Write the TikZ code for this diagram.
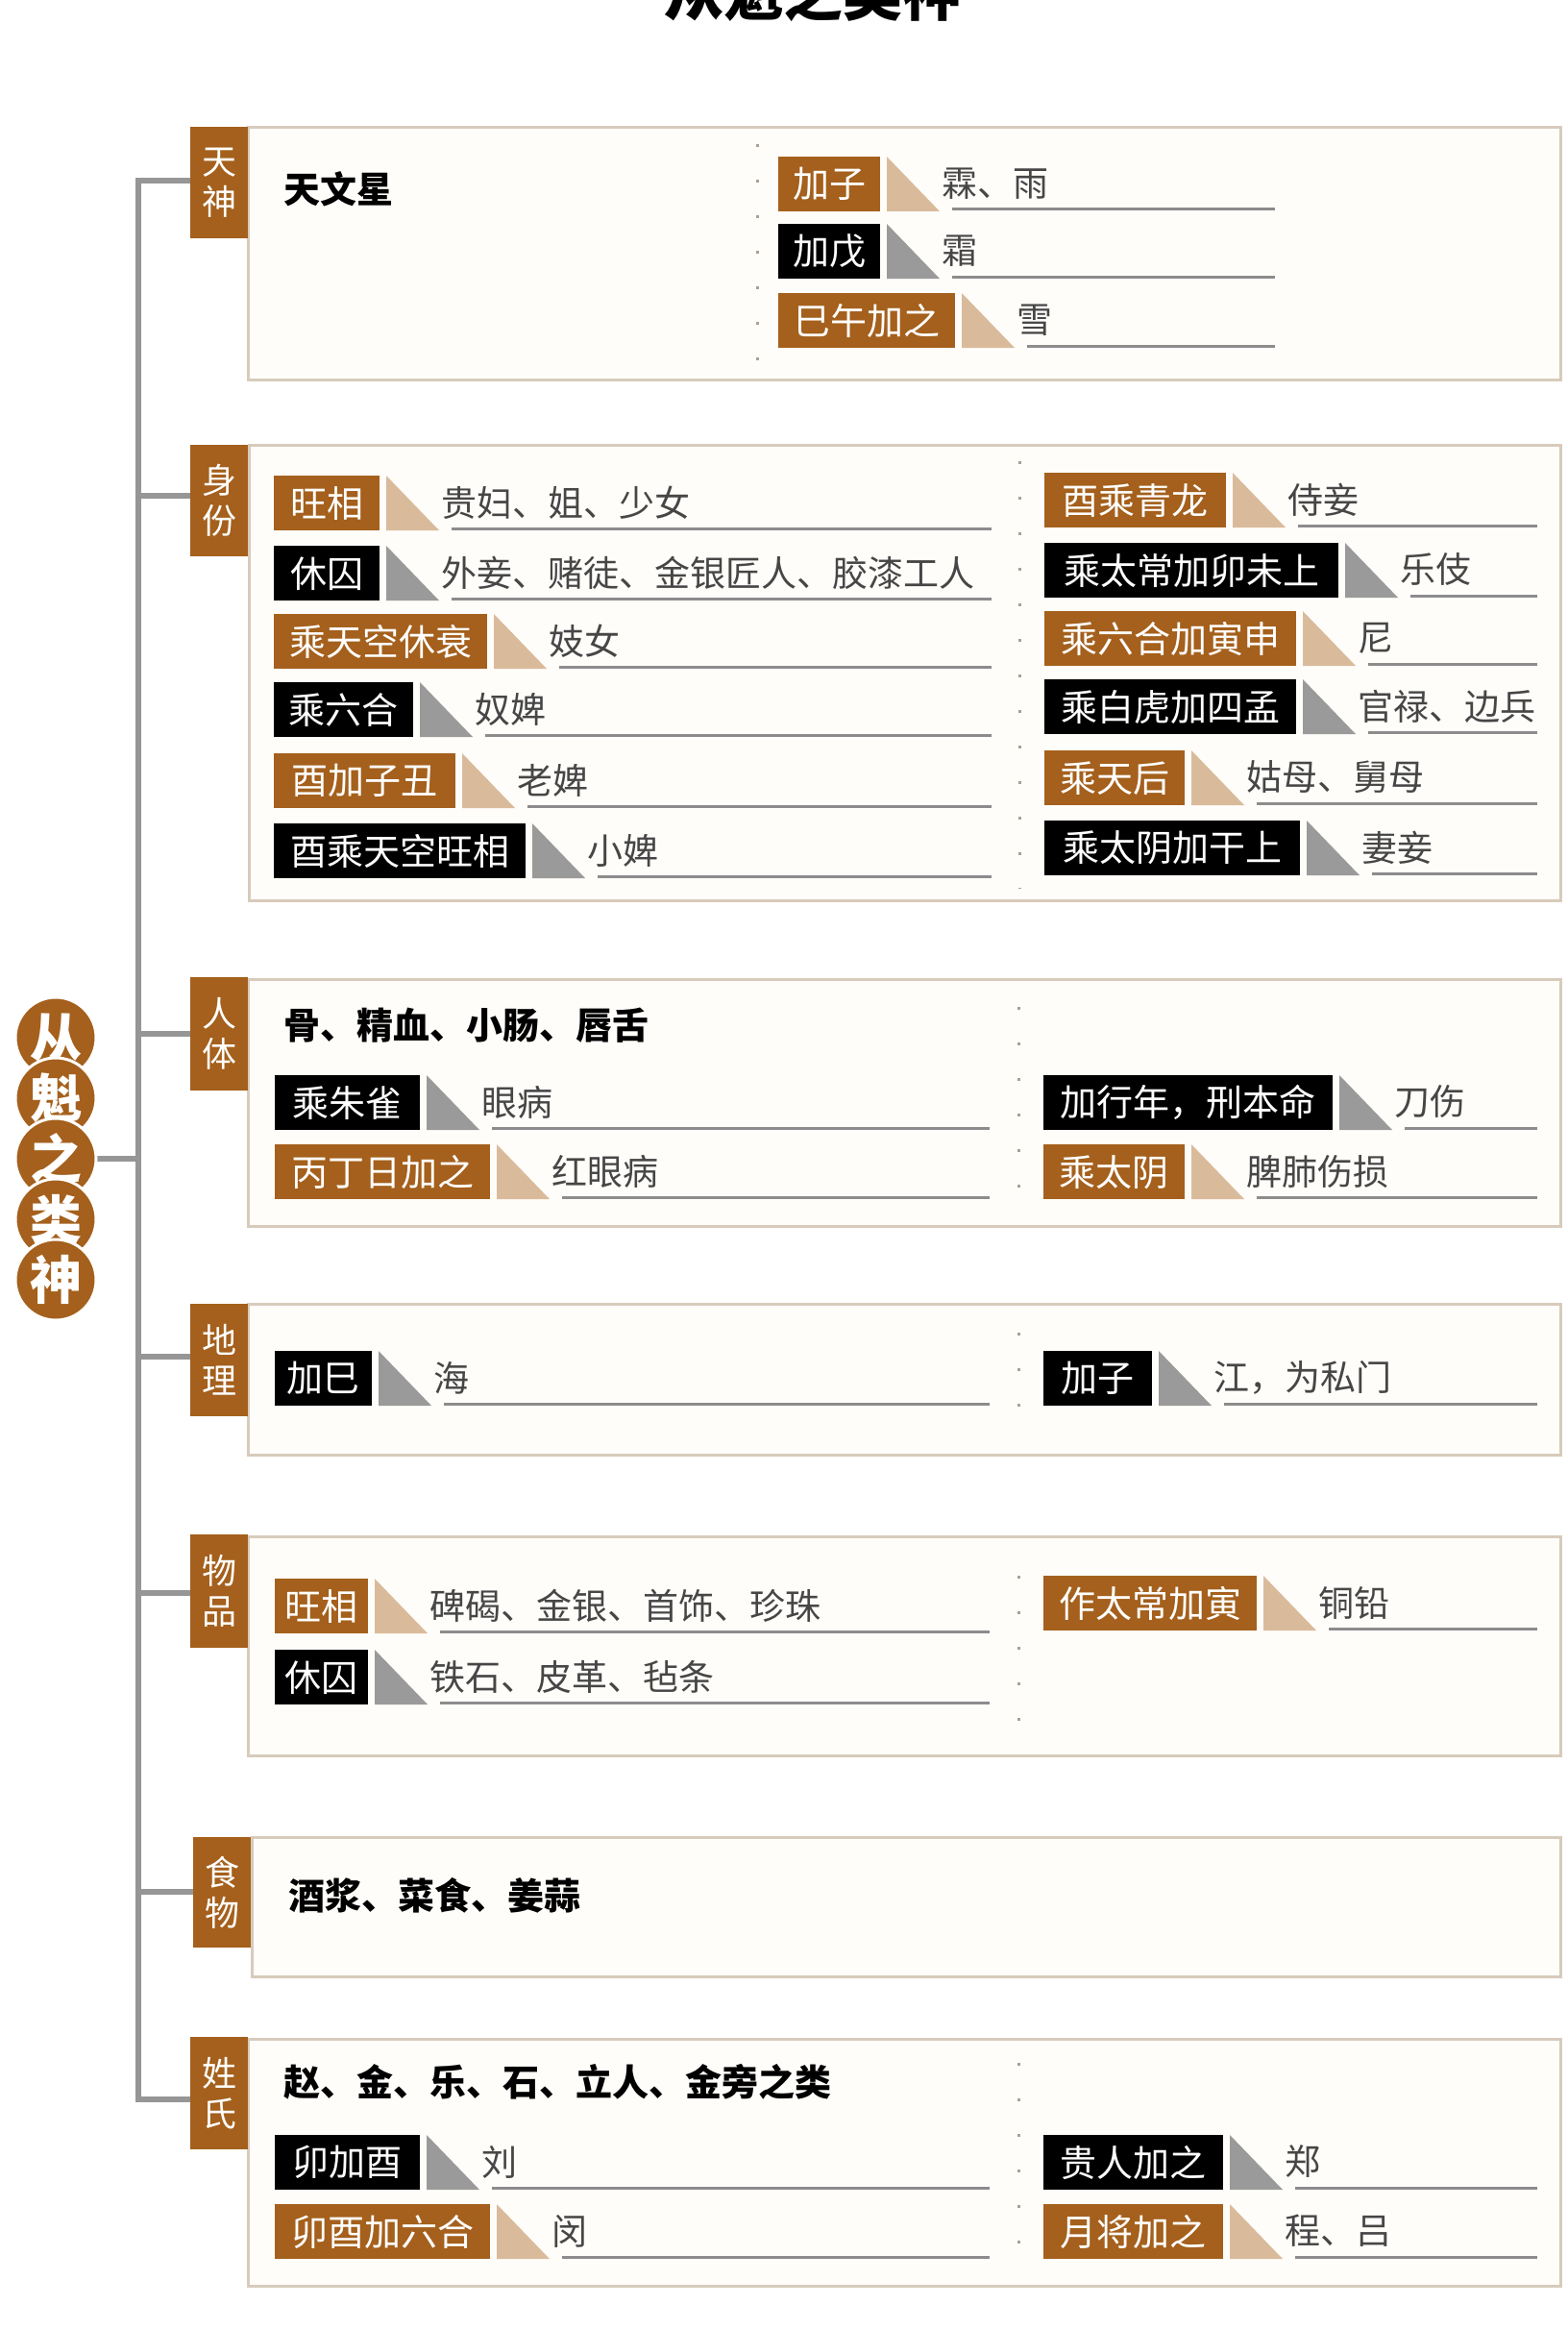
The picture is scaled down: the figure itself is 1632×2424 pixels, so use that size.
\documentclass[tikz,border=0pt]{standalone}
\usepackage{fontspec}
\setmainfont{Noto Sans CJK SC}
\usetikzlibrary{calc}
\definecolor{brn}{RGB}{164,96,28}
\definecolor{tanT}{RGB}{217,187,155}
\definecolor{grayT}{RGB}{154,154,154}
\definecolor{boxline}{RGB}{216,203,187}
\definecolor{boxfill}{RGB}{255,253,250}
\definecolor{treeline}{RGB}{150,150,150}
\definecolor{valtext}{RGB}{70,70,70}
\definecolor{ulinec}{RGB}{140,140,140}
\definecolor{sepc}{RGB}{170,160,150}
\tikzset{
 lab/.style={inner sep=0pt, minimum height=57pt, text=white, font=\fontsize{38}{40}\selectfont, anchor=north west},
 labB/.style={lab, fill=brn},
 labK/.style={lab, fill=black},
 triB/.style={fill=tanT},
 triK/.style={fill=grayT},
 val/.style={inner sep=0pt, anchor=west, text=valtext, font=\fontsize{37}{40}\selectfont},
 uline/.style={draw=ulinec, line width=3pt},
 secbox/.style={draw=boxline, line width=3pt, fill=boxfill},
 tabbox/.style={fill=brn, text=white, font=\fontsize{36}{42}\selectfont, align=center, inner sep=0pt, anchor=north west, minimum width=60pt},
 head/.style={inner sep=0pt, anchor=west, text=black, font=\bfseries\fontsize{38}{40}\selectfont},
 sepline/.style={draw=sepc, line width=3pt, dash pattern=on 3pt off 34pt},
 tree/.style={draw=treeline, line width=6pt},
 rootc/.style={circle, fill=brn, draw=white, line width=3pt, minimum size=84pt, inner sep=0pt, text=white, font=\bfseries\fontsize{54}{56}\selectfont},
}
% #1 name #2 B/K #3 left #4 right #5 top #6 label #7 value #8 line end
\newcommand\entry[8]{%
 \node[lab#2, minimum width={(#4-#3)*1pt}] (#1) at (#3,#5) {#6};
 \fill[tri#2] ({#4+7},#5) -- ({#4+7},{#5+57}) -- ({#4+62},{#5+57}) -- cycle;
 \node[val] (#1v) at ({#4+64},{#5+28}) {#7};
 \draw[uline] ({#4+75},{#5+55}) -- (#8,{#5+55});
}
\begin{document}
\begin{tikzpicture}[x=1pt,y=-1pt]
\useasboundingbox (0,0) rectangle (1632,2424);
\fill[white] (0,0) rectangle (1632,2424);
% title
\node[inner sep=0pt, anchor=base, font=\bfseries\fontsize{62}{64}\selectfont] (title) at (846,17) {从魁之类神};

% section boxes and tabs
\draw[secbox] (258,133) rectangle (1624,395);
\node[tabbox, minimum height=116pt] (s1) at (198,132) {天\\神};
\draw[secbox] (259,463) rectangle (1624,937);
\node[tabbox, minimum height=116pt] (s2) at (198,463) {身\\份};
\draw[secbox] (258,1019) rectangle (1624,1276);
\node[tabbox, minimum height=118pt] (s3) at (198,1017) {人\\体};
\draw[secbox] (258,1357) rectangle (1624,1514);
\node[tabbox, minimum height=117pt] (s4) at (198,1357) {地\\理};
\draw[secbox] (258,1599) rectangle (1624,1827);
\node[tabbox, minimum height=118pt] (s5) at (198,1597) {物\\品};
\draw[secbox] (262,1912) rectangle (1624,2057);
\node[tabbox, minimum height=115pt] (s6) at (201,1912) {食\\物};
\draw[secbox] (258,2122) rectangle (1624,2379);
\node[tabbox, minimum height=117pt] (s7) at (198,2120) {姓\\氏};

% tree
\coordinate (k1) at (144,188);
\coordinate (k2) at (144,516);
\coordinate (k3) at (144,1076);
\coordinate (k4) at (144,1412);
\coordinate (k5) at (144,1658);
\coordinate (k6) at (144,1969);
\coordinate (k7) at (144,2185);
\draw[tree] (k1 -| s1.west) -- (k1) -- (k7) -- (k7 -| s7.west);
\draw[tree] (k2) -- (k2 -| s2.west);
\draw[tree] (k3) -- (k3 -| s3.west);
\draw[tree] (k4) -- (k4 -| s4.west);
\draw[tree] (k5) -- (k5 -| s5.west);
\draw[tree] (k6) -- (k6 -| s6.west);

% root
\coordinate (rc) at (58,1206);
\draw[tree] (rc) -- (rc -| k1);
\node[rootc] (r1) at (58,1080) {从};
\node[rootc] (r2) at (58,1143) {魁};
\node[rootc] (r3) at (58,1206) {之};
\node[rootc] (r4) at (58,1269) {类};
\node[rootc] (r5) at (58,1332) {神};

% 天神
\node[head] (h1) at (295,197) {天文星};
\draw[sepline] (788,150) -- (788,377);
\entry{a1}{B}{810}{916}{163}{加子}{霖、雨}{1327}
\entry{a2}{K}{810}{916}{233}{加戊}{霜}{1327}
\entry{a3}{B}{810}{994}{305}{巳午加之}{雪}{1327}

% 身份
\draw[sepline] (1061,480) -- (1061,925);
\entry{b1}{B}{285}{395}{495}{旺相}{贵妇、姐、少女}{1032}
\entry{b2}{K}{285}{395}{568}{休囚}{外妾、赌徒、金银匠人、胶漆工人}{1032}
\entry{b3}{B}{285}{507}{639}{乘天空休衰}{妓女}{1032}
\entry{b4}{K}{285}{430}{710}{乘六合}{奴婢}{1032}
\entry{b5}{B}{285}{474}{784}{酉加子丑}{老婢}{1032}
\entry{b6}{K}{285}{547}{857}{酉乘天空旺相}{小婢}{1032}
\entry{c1}{B}{1087}{1276}{492}{酉乘青龙}{侍妾}{1600}
\entry{c2}{K}{1087}{1393}{565}{乘太常加卯未上}{乐伎}{1600}
\entry{c3}{B}{1087}{1349}{636}{乘六合加寅申}{尼}{1600}
\entry{c4}{K}{1087}{1349}{707}{乘白虎加四孟}{官禄、边兵}{1600}
\entry{c5}{B}{1087}{1233}{781}{乘天后}{姑母、舅母}{1600}
\entry{c6}{K}{1087}{1353}{854}{乘太阴加干上}{妻妾}{1600}

% 人体
\node[head] (h3) at (295,1067) {骨、精血、小肠、唇舌};
\draw[sepline] (1060,1048) -- (1060,1266);
\entry{d1}{K}{286}{437}{1119}{乘朱雀}{眼病}{1030}
\entry{d2}{B}{286}{510}{1191}{丙丁日加之}{红眼病}{1030}
\entry{d3}{K}{1086}{1387}{1119}{加行年，刑本命}{刀伤}{1600}
\entry{d4}{B}{1086}{1233}{1191}{乘太阴}{脾肺伤损}{1600}

% 地理
\draw[sepline] (1060,1387) -- (1060,1494);
\entry{e1}{K}{286}{387}{1406}{加巳}{海}{1030}
\entry{e2}{K}{1086}{1199}{1406}{加子}{江，为私门}{1600}

% 物品
\draw[sepline] (1060,1640) -- (1060,1817);
\entry{f1}{B}{286}{383}{1643}{旺相}{碑碣、金银、首饰、珍珠}{1030}
\entry{f2}{K}{286}{383}{1717}{休囚}{铁石、皮革、毡条}{1030}
\entry{f3}{B}{1086}{1308}{1640}{作太常加寅}{铜铅}{1600}

% 食物
\node[head] (h6) at (300,1973) {酒浆、菜食、姜蒜};

% 姓氏
\node[head] (h7) at (295,2167) {赵、金、乐、石、立人、金旁之类};
\draw[sepline] (1060,2147) -- (1060,2367);
\entry{g1}{K}{286}{437}{2222}{卯加酉}{刘}{1030}
\entry{g2}{B}{286}{510}{2294}{卯酉加六合}{闵}{1030}
\entry{g3}{K}{1086}{1273}{2222}{贵人加之}{郑}{1600}
\entry{g4}{B}{1086}{1273}{2294}{月将加之}{程、吕}{1600}
\end{tikzpicture}
\end{document}
